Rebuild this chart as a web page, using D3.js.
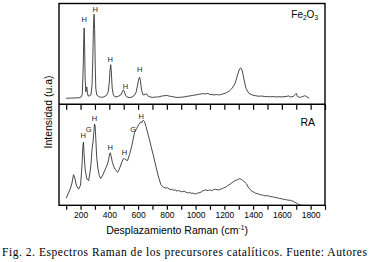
<!DOCTYPE html>
<html>
<head>
<meta charset="utf-8">
<script src="https://cdn.jsdelivr.net/npm/d3@7"></script>
<style>
  html, body { margin: 0; padding: 0; background: #fff; }
  svg { display: block; }
</style>
</head>
<body>
<div id="chart"></div>
<script>
// Raman shift (cm-1) / intensity (a.u., 0-100 per panel)
const fe2o3Shift = [100, 130, 160, 190, 205, 212, 218, 222, 225, 228, 232, 237, 243, 247, 252, 260, 272, 280, 285, 290, 294, 298, 302, 306, 312, 330, 345, 360, 380, 392, 400, 405, 410, 414, 420, 428, 440, 460, 480, 490, 498, 505, 515, 530, 550, 570, 585, 595, 603, 610, 616, 624, 635, 650, 660, 672, 700, 720, 740, 770, 800, 815, 830, 850, 870, 895, 920, 940, 960, 980, 1000, 1020, 1040, 1055, 1070, 1085, 1100, 1115, 1130, 1145, 1160, 1175, 1190, 1205, 1220, 1235, 1250, 1265, 1275, 1290, 1300, 1308, 1313, 1318, 1325, 1335, 1350, 1370, 1385, 1400, 1420, 1440, 1460, 1480, 1500, 1520, 1540, 1560, 1580, 1600, 1615, 1630, 1648, 1660, 1670, 1680, 1690, 1700, 1708, 1715, 1725, 1735, 1745, 1755, 1763, 1775, 1790];
const fe2o3Int   = [6.0, 6.1, 6.3, 6.5, 7.3, 10.3, 34, 64, 75.8, 59, 24, 12.3, 17.3, 12.3, 8.3, 8.3, 9.3, 19.3, 44, 79, 89.3, 74, 39, 16, 9.3, 7.3, 7.0, 7.3, 8.8, 12.3, 22, 34, 39.3, 32, 16, 9.3, 7.3, 7.8, 9.3, 12.3, 14.3, 12.3, 8.3, 6.8, 6.8, 8.3, 11.3, 18, 24, 27, 24, 14, 9.3, 9.8, 10.3, 7.8, 6.8, 7.2, 7.3, 8.3, 8.8, 8.2, 7.8, 7.3, 6.8, 7.0, 7.3, 7.9, 8.3, 8.8, 9.3, 9.9, 10.3, 10.6, 10.3, 10.8, 9.8, 9.6, 9.3, 9.8, 9.3, 9.7, 10.3, 10.9, 11.8, 13.2, 15.3, 18.2, 21, 28, 33, 35.5, 36, 35.2, 33, 26, 16, 11, 9.8, 9, 8.4, 8, 8.2, 7.8, 7.6, 7.5, 7.7, 7.3, 7.5, 7.3, 7.6, 7.8, 8.3, 7.3, 7.6, 7.8, 9.3, 10.8, 7.8, 7.4, 6.8, 7.2, 7.8, 8.1, 8.5, 7.3, 6.0];

const raShift = [100, 115, 130, 140, 151, 160, 170, 186, 200, 210, 216, 220, 224, 232, 244, 256, 265, 272, 280, 287, 292, 297, 301, 306, 312, 320, 330, 340, 355, 370, 385, 395, 402, 407, 412, 422, 435, 450, 458, 470, 485, 497, 505, 515, 527, 540, 555, 565, 575, 590, 605, 620, 628, 636, 645, 655, 670, 690, 705, 724, 740, 759, 775, 793, 805, 815, 830, 840, 850, 860, 870, 880, 890, 900, 909, 920, 930, 940, 950, 960, 970, 980, 990, 1000, 1010, 1020, 1030, 1040, 1050, 1060, 1071, 1080, 1090, 1100, 1110, 1120, 1130, 1140, 1150, 1163, 1175, 1185, 1195, 1210, 1220, 1232, 1245, 1255, 1268, 1280, 1292, 1306, 1314, 1320, 1328, 1335, 1348, 1356, 1365, 1372, 1380, 1394, 1405, 1415, 1428, 1440, 1450, 1460, 1472, 1486, 1498, 1510, 1522, 1535, 1548, 1560, 1572, 1585, 1595, 1602, 1612, 1625, 1638, 1650, 1660, 1671, 1680, 1690, 1698, 1705, 1711, 1717, 1728, 1740];
const raInt   = [7, 12, 17, 22, 30.3, 27, 20, 16, 20, 40, 58, 62.6, 52, 35, 26, 24.3, 32, 40, 56, 63, 72, 80.5, 79, 66, 48, 37, 29.5, 26.5, 30, 35, 40, 45, 51, 52, 49, 42, 37, 34, 32.6, 36, 42, 46, 46.3, 45, 44.3, 50, 58, 65, 72, 76, 80, 82.6, 82, 84.3, 83, 78, 70, 58.6, 50, 38.6, 29, 20.3, 18, 17, 17.4, 16.2, 15.3, 15.9, 14.8, 15.2, 14, 14.7, 14.2, 13.4, 13.6, 13.9, 13.2, 12.6, 12.3, 12.8, 11.8, 12.1, 11.6, 11.2, 11.8, 12.4, 12.5, 13.4, 14.3, 14.9, 15.3, 14.6, 14.8, 15.4, 14.5, 15.1, 15.6, 15.9, 15.3, 15.3, 16.1, 16.4, 17.3, 18, 19.2, 20.3, 21.4, 22.5, 23.9, 24.7, 25.4, 26.3, 25.9, 25.4, 24.8, 24, 22, 20.9, 18, 17.2, 15.5, 13.6, 13.2, 12, 11.6, 11, 10.6, 10.2, 9.9, 9.3, 9.6, 9, 8.7, 8.3, 8.1, 7.5, 7.4, 6.7, 6.6, 6.3, 5.9, 5.6, 5.3, 5, 4.9, 4.3, 3.9, 3.2, 2.4, 1.8, 1.4, 0.8, 0.3, 0];

// peak assignment labels (H = hematite, G = goethite)
const fe2o3Marks = ['H', 'H', 'H', 'H', 'H'];
const fe2o3MarkShift = [225, 301, 406, 513, 611];
const fe2o3MarkInt = [81.3, 92, 42, 15.3, 32];

const raMarks = ['H', 'G', 'H', 'H', 'H', 'G', 'H'];
const raMarkShift = [218, 257, 296, 407, 505, 565, 622];
const raMarkInt = [66.3, 72.3, 83.3, 55, 49.6, 72.3, 85.6];

const majorTicks = [200, 400, 600, 800, 1000, 1200, 1400, 1600, 1800];
const minorTicks = [100, 300, 500, 700, 900, 1100, 1300, 1500, 1700, 1900];

const W = 370, H = 262;
const padL = 59, padR = 325, padT = 3.5, padMid = 104.3, padB = 205.3;

const svg = d3.select('#chart').append('svg')
  .attr('width', W)
  .attr('height', H);

const x = d3.scaleLinear().domain([50, 1900]).range([padL, padR]);
const yTop = d3.scaleLinear().domain([0, 100]).range([padMid, padT]);
const yBot = d3.scaleLinear().domain([0, 100]).range([padB, padMid]);

const lineColor = '#333';

function drawSpectrum(xs, ys, y) {
  const pts = xs.map((v, i) => [v, ys[i]]);
  svg.append('path')
    .datum(pts)
    .attr('fill', 'none')
    .attr('stroke', lineColor)
    .attr('stroke-width', 0.9)
    .attr('stroke-linejoin', 'round')
    .attr('d', d3.line().x(d => x(d[0])).y(d => y(d[1])));
}

function drawMarks(labels, xs, ys, y) {
  svg.selectAll(null)
    .data(labels.map((t, i) => ({ t, x: xs[i], y: ys[i] })))
    .enter()
    .append('text')
    .attr('x', d => x(d.x))
    .attr('y', d => y(d.y))
    .attr('text-anchor', 'middle')
    .attr('font-family', 'Liberation Sans, Arial, sans-serif')
    .attr('font-size', '7.5px')
    .attr('fill', '#222')
    .text(d => d.t);
}

drawSpectrum(fe2o3Shift, fe2o3Int, yTop);
drawSpectrum(raShift, raInt, yBot);
drawMarks(fe2o3Marks, fe2o3MarkShift, fe2o3MarkInt, yTop);
drawMarks(raMarks, raMarkShift, raMarkInt, yBot);

// ticks on the panel divider, pointing into the lower panel
const allTicks = majorTicks.concat(minorTicks);
svg.append('g')
  .attr('transform', `translate(0,${padMid})`)
  .call(d3.axisBottom(x).tickValues(allTicks).tickSize(5.5).tickFormat(''))
  .call(g => g.select('.domain').remove())
  .selectAll('.tick line').attr('stroke', '#000').attr('stroke-width', 1.2);

// bottom axis, ticks outward
const xAxis = svg.append('g')
  .attr('transform', `translate(0,${padB})`)
  .call(d3.axisBottom(x).tickValues(allTicks).tickSize(4.5).tickPadding(2)
    .tickFormat(d => majorTicks.includes(d) ? d : ''));
xAxis.select('.domain').remove();
xAxis.selectAll('.tick line').attr('stroke', '#000').attr('stroke-width', 1.2);
xAxis.selectAll('text')
  .attr('fill', '#000')
  .attr('font-family', 'Liberation Sans, Arial, sans-serif')
  .attr('font-size', '8.5px');

// frames
svg.append('rect')
  .attr('x', padL).attr('y', padT)
  .attr('width', padR - padL).attr('height', padB - padT)
  .attr('fill', 'none').attr('stroke', '#000').attr('stroke-width', 1.4);
svg.append('line')
  .attr('x1', padL).attr('x2', padR)
  .attr('y1', padMid).attr('y2', padMid)
  .attr('stroke', '#000').attr('stroke-width', 1.4);

// panel names
const fe = svg.append('text')
  .attr('x', 318).attr('y', 18)
  .attr('text-anchor', 'end')
  .attr('font-family', 'Liberation Sans, Arial, sans-serif')
  .attr('font-size', '10px')
  .attr('fill', '#000');
fe.append('tspan').text('Fe');
fe.append('tspan').attr('font-size', '6.5px').attr('dy', 2).text('2');
fe.append('tspan').attr('dy', -2).text('O');
fe.append('tspan').attr('font-size', '6.5px').attr('dy', 2).text('3');

svg.append('text')
  .attr('x', 315).attr('y', 125.5)
  .attr('text-anchor', 'end')
  .attr('font-family', 'Liberation Sans, Arial, sans-serif')
  .attr('font-size', '10.5px')
  .attr('fill', '#000')
  .text('RA');

// axis titles
svg.append('text')
  .attr('transform', 'translate(52,112) rotate(-90)')
  .attr('text-anchor', 'middle')
  .attr('font-family', 'Liberation Sans, Arial, sans-serif')
  .attr('font-size', '10.5px')
  .attr('fill', '#000')
  .text('Intensidad (u.a)');

const xt = svg.append('text')
  .attr('x', 177).attr('y', 233.5)
  .attr('text-anchor', 'middle')
  .attr('font-family', 'Liberation Sans, Arial, sans-serif')
  .attr('font-size', '10.5px')
  .attr('fill', '#000');
xt.append('tspan').text('Desplazamiento Raman (cm');
xt.append('tspan').attr('font-size', '6.5px').attr('dy', -4).text('-1');
xt.append('tspan').attr('dy', 4).text(')');

// caption
svg.append('text')
  .attr('x', 2).attr('y', 256)
  .attr('font-family', 'Liberation Serif, Times New Roman, serif')
  .attr('font-size', '11.5px')
  .attr('fill', '#000')
  .attr('textLength', 365)
  .attr('lengthAdjust', 'spacing')
  .text('Fig. 2. Espectros Raman de los precursores catalíticos. Fuente: Autores');
</script>
</body>
</html>
